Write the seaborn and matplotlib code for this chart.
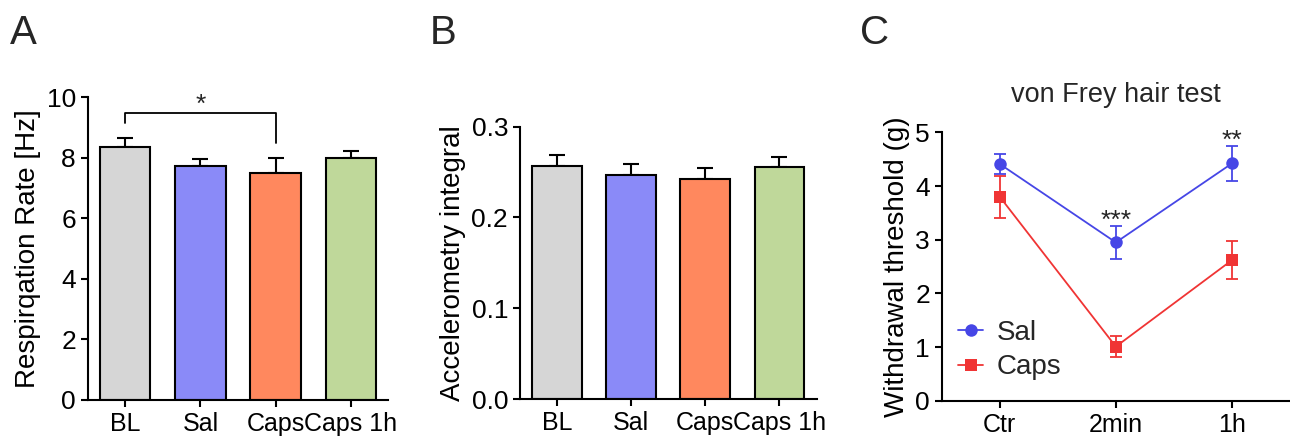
import numpy as np
import pandas as pd
import matplotlib
matplotlib.use("Agg")
import matplotlib.pyplot as plt
import seaborn as sns

# --- data ---
groups = ["BL", "Sal", "Caps", "Caps 1h"]
bar_colors = ["#d6d6d6", "#8a8af8", "#ff885e", "#bfd89a"]

resp_mean = [8.36, 7.72, 7.48, 7.98]
resp_sem = [0.28, 0.22, 0.50, 0.23]

accel_mean = [0.2567, 0.2470, 0.2424, 0.2556]
accel_sem = [0.0121, 0.0119, 0.0121, 0.0113]

times = ["Ctr", "2min", "1h"]
sal_mean = [4.41, 2.95, 4.42]
sal_sem = [0.18, 0.31, 0.32]
caps_mean = [3.80, 1.01, 2.62]
caps_sem = [0.39, 0.19, 0.35]
stars = ["", "***", "**"]

sns.set_theme(style="ticks")
plt.rcParams["font.family"] = ["Liberation Sans", "DejaVu Sans"]
plt.rcParams["axes.linewidth"] = 1.5
plt.rcParams["xtick.major.width"] = 1.5
plt.rcParams["ytick.major.width"] = 1.5
plt.rcParams["xtick.major.size"] = 5
plt.rcParams["ytick.major.size"] = 5
plt.rcParams["xtick.labelsize"] = 18
plt.rcParams["ytick.labelsize"] = 19
plt.rcParams["xtick.color"] = "black"
plt.rcParams["ytick.color"] = "black"
plt.rcParams["axes.edgecolor"] = "black"

fig = plt.figure(figsize=(12.9, 4.41), dpi=100)
axA = fig.add_axes([0.068, 0.093, 0.233, 0.687])
axB = fig.add_axes([0.403, 0.095, 0.230, 0.618])
axC = fig.add_axes([0.730, 0.091, 0.270, 0.609])


def bar_panel(ax, means, sems, ylim, yticks, ylabel, fmt):
    sns.barplot(x=groups, y=means, hue=groups, palette=bar_colors, legend=False,
                edgecolor="black", linewidth=1.5, width=0.67, saturation=1, ax=ax)
    ax.errorbar(range(len(groups)), means, yerr=[np.zeros(len(sems)), sems],
                fmt="none", ecolor="black", elinewidth=1.5, capsize=5.5,
                capthick=1.5, zorder=0)
    ax.set_xlim(-0.5, 3.5)
    ax.set_ylim(*ylim)
    ax.set_yticks(yticks)
    ax.set_yticklabels([fmt.format(t) for t in yticks])
    ax.set_ylabel(ylabel, fontsize=20, color="black")
    ax.set_xlabel("")
    sns.despine(ax=ax)


# A: respiration rate
bar_panel(axA, resp_mean, resp_sem, (0, 10), [0, 2, 4, 6, 8, 10],
          "Respirqation Rate [Hz]", "{:g}")
top = 9.48
axA.plot([0, 0, 2, 2], [resp_mean[0] + resp_sem[0] + 0.5, top, top,
                        resp_mean[2] + resp_sem[2] + 0.5],
         color="black", lw=1.3, clip_on=False)
axA.text(1, top - 0.12, "*", ha="center", va="bottom", fontsize=19)

# B: accelerometry
bar_panel(axB, accel_mean, accel_sem, (0, 0.3), [0.0, 0.1, 0.2, 0.3],
          "Accelerometry integral", "{:.1f}")

# C: von Frey
df = pd.DataFrame({
    "time": times * 2,
    "threshold": sal_mean + caps_mean,
    "group": ["Sal"] * 3 + ["Caps"] * 3,
})
line_colors = {"Sal": "#4646e6", "Caps": "#f03434"}
sns.lineplot(data=df, x="time", y="threshold", hue="group", style="group",
             markers={"Sal": "o", "Caps": "s"}, dashes=False, palette=line_colors,
             markersize=9, markeredgewidth=0, linewidth=1.3, ax=axC)
axC.errorbar(range(3), sal_mean, yerr=sal_sem, fmt="none",
             ecolor=line_colors["Sal"], elinewidth=1.3, capsize=4, capthick=1.3)
axC.errorbar(range(3), caps_mean, yerr=caps_sem, fmt="none",
             ecolor=line_colors["Caps"], elinewidth=1.3, capsize=4, capthick=1.3)
for i, s in enumerate(stars):
    if s:
        axC.text(i, sal_mean[i] + sal_sem[i] - 0.13, s, ha="center",
                 va="bottom", fontsize=19)
axC.set_xlim(-0.5, 2.5)
axC.set_ylim(0, 5)
axC.set_yticks([0, 1, 2, 3, 4, 5])
axC.set_xlabel("")
axC.set_ylabel("Withdrawal threshold (g)", fontsize=20, color="black")
axC.set_title("von Frey hair test", fontsize=19.5, pad=22)
leg = axC.legend(loc="lower left", bbox_to_anchor=(0.015, 0.035), frameon=False,
                 fontsize=20, handlelength=0.9, handletextpad=0.5,
                 labelspacing=0.3, borderaxespad=0)
for h in leg.legend_handles:
    h.set_markersize(9)
    h.set_linewidth(1.3)
sns.despine(ax=axC)

# panel letters
for x, lab in [(0.008, "A"), (0.333, "B"), (0.667, "C")]:
    fig.text(x, 0.882, lab, fontsize=29, ha="left", va="bottom")

fig.savefig("out.png", dpi=100)
